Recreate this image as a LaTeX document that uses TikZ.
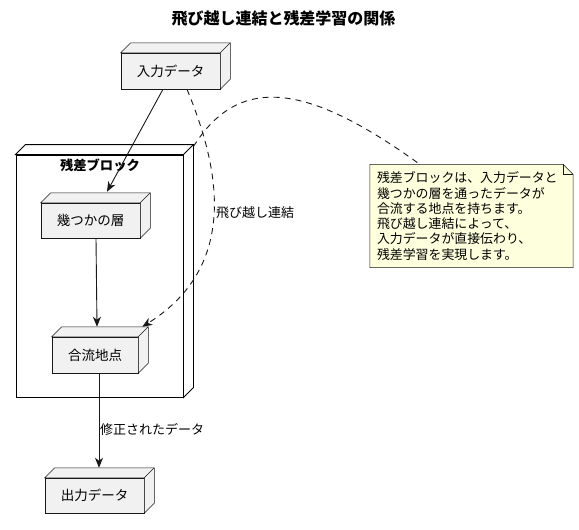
\documentclass[tikz,border=0pt]{standalone}
\usepackage{fontspec}
\setmainfont{Noto Sans CJK JP}
\usetikzlibrary{arrows.meta,backgrounds}
\definecolor{nodefill}{HTML}{F1F1F1}
\definecolor{edgecol}{HTML}{181818}
\definecolor{notefill}{HTML}{FEFFDD}
\newcommand{\drawdepth}[2]{%
\draw[#2] (#1.north west) -- ++(10,-10) -- ([shift={(10,-10)}]#1.north east) -- ([shift={(10,-10)}]#1.south east) -- (#1.south east) -- (#1.north east) -- cycle;
\draw[#2] (#1.north east) -- ++(10,-10);}
\begin{document}
\begin{tikzpicture}[x=1pt, y=-1pt,
  box/.style={draw=edgecol, line width=0.5pt, fill=nodefill, inner sep=0pt, font=\fontsize{13.5}{16}\selectfont},
  boxside/.style={draw=edgecol, line width=0.5pt, fill=nodefill},
  pkg/.style={draw=black, line width=0.9pt, fill=white, inner sep=0pt},
  pkgside/.style={draw=black, line width=0.9pt, fill=white},
  lbl/.style={font=\fontsize{13}{15}\selectfont, inner sep=0pt},
  arr/.style={draw=edgecol, line width=0.9pt, -{Stealth[length=10pt, width=8pt, inset=3pt]}},
  dsh/.style={draw=edgecol, line width=0.9pt, dash pattern=on 6pt off 5pt}]
\useasboundingbox (0,0) rectangle (579,530);
\node[font=\bfseries\fontsize{16}{19}\selectfont] (Title) at (283.5,18) {飛び越し連結と残差学習の関係};
\node[pkg, minimum width=167pt, minimum height=242pt] (Blk) at (99.5,276) {};
\drawdepth{Blk}{pkgside}
\node[font=\bfseries\fontsize{13.3}{16}\selectfont] (BlkT) at (100,165) {残差ブロック};
\node[box, minimum width=99pt, minimum height=36pt] (In) at (170.5,71) {入力データ};
\drawdepth{In}{boxside}
\node[box, minimum width=99pt, minimum height=35pt] (Layers) at (90.5,220.5) {幾つかの層};
\drawdepth{Layers}{boxside}
\node[box, minimum width=86pt, minimum height=36pt] (Join) at (95,355) {合流地点};
\drawdepth{Join}{boxside}
\node[box, minimum width=99pt, minimum height=35pt] (Out) at (94.5,495.5) {出力データ};
\drawdepth{Out}{boxside}
\node[font=\fontsize{12.9}{15.3}\selectfont, align=left, text width=189pt, inner sep=7pt, minimum width=203pt, minimum height=102pt] (Note) at (471.5,216) {残差ブロックは、入力データと\\幾つかの層を通ったデータが\\合流する地点を持ちます。\\飛び越し連結によって、\\入力データが直接伝わり、\\残差学習を実現します。};
\begin{scope}[on background layer]
\draw[draw=edgecol, line width=0.5pt, fill=notefill] (Note.north west) -- ([xshift=-10pt]Note.north east) -- ([yshift=-10pt]Note.north east) -- (Note.south east) -- (Note.south west) -- cycle;
\draw[draw=edgecol, line width=0.5pt] ([xshift=-10pt]Note.north east) -- ([shift={(-10,10)}]Note.north east) -- ([yshift=-10pt]Note.north east);
\end{scope}
\draw[arr] ([xshift=-7.5pt]In.south) -- ([shift={(16.5,-11)}]Layers.north);
\draw[arr] ([xshift=5.5pt]Layers.south) -- ([shift={(2,-10)}]Join.north);
\draw[arr] ([xshift=4pt]Join.south) -- ([shift={(4.5,-10)}]Out.north);
\node[lbl, anchor=west] (ModL) at (100,429) {修正されたデータ};
\draw[arr, dash pattern=on 6pt off 5pt] ([xshift=16.5pt]In.south) .. controls (214,155) and (246,262) .. ([shift={(4,-10)}]Join.north east);
\node[lbl, anchor=west] (SkipL) at (216,213) {飛び越し連結};
\draw[dsh] ([shift={(10,-8)}]Blk.north east) .. controls (240,72) and (310,85) .. ([xshift=-51.5pt]Note.north);
\end{tikzpicture}
\end{document}
